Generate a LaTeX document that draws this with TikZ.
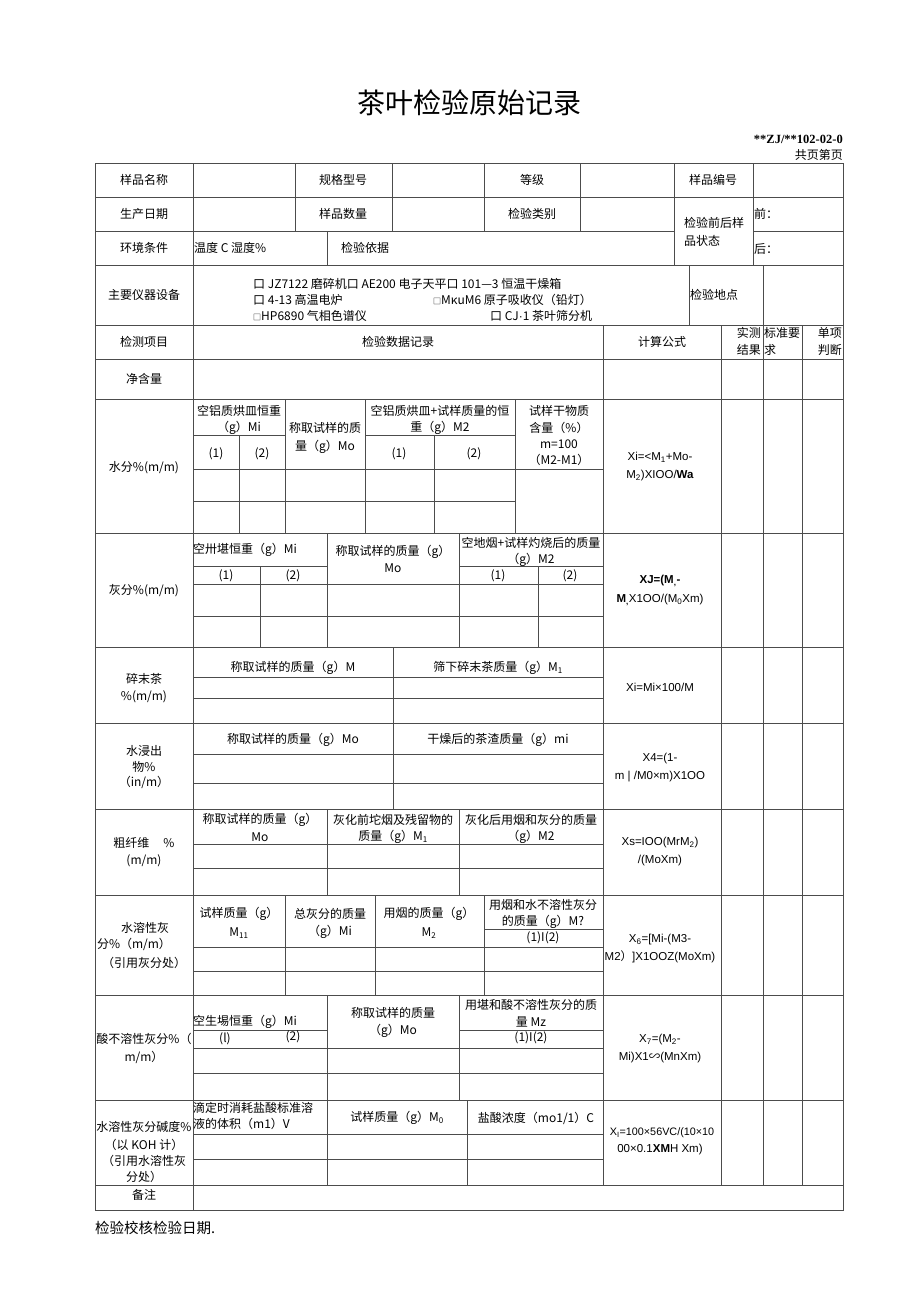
\documentclass[tikz,border=0pt]{standalone}
\usepackage{fontspec}
\setmainfont{Noto Sans CJK SC}
\newfontfamily\cjk{Noto Sans CJK SC}
\newfontfamily\tnr{Liberation Serif}
\newfontfamily\lat{Liberation Sans}
\usepackage{tikz}

\begin{document}
\begin{tikzpicture}[x=1pt,y=-1pt]
	\tikzstyle{T} = [inner sep=0pt,font=\fontsize{12}{14}\selectfont,text=black]
	\tikzstyle{Tl} = [T,anchor=west]
	\tikzstyle{Tr} = [T,anchor=east]
	\tikzstyle{F} = [inner sep=0pt,font=\lat\fontsize{11.5}{13}\selectfont,text=black]
	\tikzstyle{G} = [line width=1pt,color=black!70]
	\fill[white] (0,0) rectangle (920,1301);
	\useasboundingbox (0,0) rectangle (920,1301);
	% heading
	\node[T,font=\fontsize{28}{30}\selectfont](title) at (469,103) {茶叶检验原始记录};
	\node[Tr,font=\tnr\bfseries\fontsize{12.5}{13}\selectfont](code) at (843,139) {**ZJ/**102-02-0};
	\node[Tr](pg) at (843,155) {共页第页};
	% frame and rows
	\draw[G] (95,163) rectangle (843,1210);
	\draw[G] (95,197) -- (843,197) (95,231) -- (674,231) (753,231) -- (843,231);
	\draw[G] (95,265) -- (843,265) (95,325) -- (843,325) (95,359) -- (843,359) (95,399) -- (843,399);
	\draw[G] (95,533) -- (843,533) (95,647) -- (843,647) (95,723) -- (843,723) (95,809) -- (843,809);
	\draw[G] (95,895) -- (843,895) (95,995) -- (843,995) (95,1100) -- (843,1100) (95,1185) -- (843,1185);
	\draw[G] (193,163) -- (193,1210);
	\draw[G] (295,163) -- (295,231) (392,163) -- (392,231) (484,163) -- (484,231) (580,163) -- (580,231);
	\draw[G] (674,163) -- (674,265) (753,163) -- (753,265) (327,231) -- (327,265);
	\draw[G] (689,265) -- (689,325) (763,265) -- (763,325);
	\draw[G] (603,325) -- (603,1185) (721,325) -- (721,1185) (763,325) -- (763,1185) (802,325) -- (802,1185);
	% water
	\draw[G] (239,435) -- (239,533) (285,399) -- (285,533) (365,399) -- (365,533) (434,435) -- (434,533) (515,399) -- (515,533);
	\draw[G] (193,435) -- (285,435) (365,435) -- (515,435) (193,469) -- (603,469) (193,501) -- (515,501);
	% ash
	\draw[G] (260,566) -- (260,647) (327,533) -- (327,647) (459,533) -- (459,647) (538,566) -- (538,647);
	\draw[G] (193,566) -- (327,566) (459,566) -- (603,566) (193,584) -- (603,584) (193,616) -- (603,616);
	% broken tea, water extract, crude fibre
	\draw[G] (393,647) -- (393,809) (193,677) -- (603,677) (193,698) -- (603,698) (193,754) -- (603,754) (193,783) -- (603,783);
	\draw[G] (327,809) -- (327,895) (459,809) -- (459,895) (193,844) -- (603,844) (193,868) -- (603,868);
	% water soluble ash, acid insoluble ash, alkalinity
	\draw[G] (285,895) -- (285,995) (375,895) -- (375,995) (484,895) -- (484,995);
	\draw[G] (484,929) -- (603,929) (193,947) -- (603,947) (193,971) -- (603,971);
	\draw[G] (327,995) -- (327,1100) (459,995) -- (459,1100);
	\draw[G] (193,1030) -- (327,1030) (459,1030) -- (603,1030) (193,1048) -- (603,1048) (193,1073) -- (603,1073);
	\draw[G] (327,1100) -- (327,1185) (467,1100) -- (467,1185) (193,1134) -- (603,1134) (193,1159) -- (603,1159);
	% top rows
	\node[T](name) at (144,180) {样品名称};
	\node[T](spec) at (343,180) {规格型号};
	\node[T](grade) at (532,180) {等级};
	\node[T](no) at (713,180) {样品编号};
	\node[T](date) at (144,214) {生产日期};
	\node[T](qty) at (343,214) {样品数量};
	\node[T](kind) at (532,214) {检验类别};
	\node[Tl](st1) at (684,223) {检验前后样};
	\node[Tl](st2) at (684,241) {品状态};
	\node[Tl](pre) at (754,214) {前：};
	\node[Tl](post) at (754,249) {后：};
	\node[T](env) at (144,248) {环境条件};
	\node[Tl](temp) at (194,248) {温度 C 湿度\%};
	\node[Tl](basis) at (341,248) {检验依据};
	\node[T](equip) at (144,295) {主要仪器设备};
	\node[Tl](eq1) at (253,284) {口 JZ7122 磨碎机口 AE200 电子天平口 101—3 恒温干燥箱};
	\node[Tl](eq2) at (253,300) {口 4-13 高温电炉};
	\node[Tl](eq3) at (433,300) {{\fontsize{8}{8}\selectfont □}MκuM6 原子吸收仪（铅灯）};
	\node[Tl](eq4) at (253,316) {{\fontsize{8}{8}\selectfont □}HP6890 气相色谱仪};
	\node[Tl](eq5) at (490,316) {口 CJ{\lat ·}1 茶叶筛分机};
	\node[Tl](site) at (690,295) {检验地点};
	% header
	\node[T](item) at (144,342) {检测项目};
	\node[T](rec) at (398,342) {检验数据记录};
	\node[T](calc) at (662,342) {计算公式};
	\node[Tr](res1) at (761,333) {实测};
	\node[Tr](res2) at (761,350) {结果};
	\node[Tl](std1) at (764,333) {标准要};
	\node[Tl](std2) at (764,350) {求};
	\node[Tr](jd1) at (842,333) {单项};
	\node[Tr](jd2) at (842,350) {判断};
	\node[T](net) at (144,379) {净含量};
	% water
	\node[T](w) at (144,468) {水分\%(m/m)};
	\node[T](wa1) at (239,411) {空铝质烘皿恒重};
	\node[T](wa2) at (239,428) {（g）Mi};
	\node[T](wb1) at (325,428) {称取试样的质};
	\node[T](wb2) at (325,447) {量（g）Mo};
	\node[T](wc1) at (440,411) {空铝质烘皿+试样质量的恒};
	\node[T](wc2) at (440,428) {重（g）M2};
	\node[T](wd1) at (559,411) {试样干物质};
	\node[T](wd2) at (559,428) {含量（\%）};
	\node[T](wd3) at (559,444) {m=100};
	\node[T](wd4) at (559,460) {（M2-M1）};
	\node[T](w11) at (216,454) {(1)};
	\node[T](w12) at (262,454) {(2)};
	\node[T](w21) at (399,454) {(1)};
	\node[T](w22) at (474,454) {(2)};
	\node[F](wf1) at (660,457) {Xi=<M\textsubscript{1}+Mo-};
	\node[F](wf2) at (660,476) {M\textsubscript{2})XIOO/\textbf{Wa}};
	% ash
	\node[T](a) at (144,591) {灰分\%(m/m)};
	\node[Tl](aa) at (193,550) {空卅堪恒重（g）Mi};
	\node[T](ab1) at (393,552) {称取试样的质量（g）};
	\node[T](ab2) at (393,568) {Mo};
	\node[T](ac1) at (531,543) {空地烟+试样灼烧后的质量};
	\node[T](ac2) at (531,560) {（g）M2};
	\node[T](a11) at (226,576) {(1)};
	\node[T](a12) at (293,576) {(2)};
	\node[T](a21) at (498,576) {(1)};
	\node[T](a22) at (570,576) {(2)};
	\node[F](af1) at (660,581) {\textbf{XJ=(M\textsubscript{,}-}};
	\node[F](af2) at (660,600) {\textbf{M\textsubscript{,}}X1OO/(M\textsubscript{0}Xm)};
	% broken tea
	\node[T](b1) at (144,679) {碎末茶};
	\node[T](b2) at (144,697) {\%(m/m)};
	\node[T](ba) at (293,668) {称取试样的质量（g）M};
	\node[T](bb) at (498,668) {筛下碎末茶质量（g）M\textsubscript{1}};
	\node[F](bf) at (660,687) {Xi=Mi×100/M};
	% water extract
	\node[T](e1) at (144,751) {水浸出};
	\node[T](e2) at (144,767) {物\%};
	\node[T](e3) at (144,782) {（in/m）};
	\node[T](ea) at (293,740) {称取试样的质量（g）Mo};
	\node[T](eb) at (498,740) {干燥后的茶渣质量（g）mi};
	\node[F](ef1) at (660,759) {X4=(1-};
	\node[F](ef2) at (660,777) {m | /M0×m)X1OO};
	% crude fibre
	\node[T](c1) at (144,843) {粗纤维\hspace{14pt}\%};
	\node[T](c2) at (144,861) {(m/m)};
	\node[T](ca1) at (260,820) {称取试样的质量（g）};
	\node[T](ca2) at (260,837) {Mo};
	\node[T](cb1) at (393,820) {灰化前坨烟及残留物的};
	\node[T](cb2) at (393,837) {质量（g）M\textsubscript{1}};
	\node[T](cc1) at (531,820) {灰化后用烟和灰分的质量};
	\node[T](cc2) at (531,837) {（g）M2};
	\node[F](cf1) at (660,843) {Xs=IOO(MrM\textsubscript{2})};
	\node[F](cf2) at (660,861) {/(MoXm)};
	% water soluble ash
	\node[T](s1) at (145,928) {水溶性灰};
	\node[T](s2) at (134,944) {分\%（m/m）};
	\node[T](s3) at (144,963) {（引用灰分处）};
	\node[T](sa1) at (239,914) {试样质量（g）};
	\node[T](sa2) at (239,933) {M\textsubscript{11}};
	\node[T](sb1) at (330,914) {总灰分的质量};
	\node[T](sb2) at (330,932) {（g）Mi};
	\node[T](sc1) at (429,914) {用烟的质量（g）};
	\node[T](sc2) at (429,933) {M\textsubscript{2}};
	\node[T](sd1) at (543,905) {用烟和水不溶性灰分};
	\node[T](sd2) at (543,922) {的质量（g）M?};
	\node[T](sd3) at (543,938) {(1)I(2)};
	\node[F](sf1) at (660,940) {X\textsubscript{6}=[Mi-(M3-};
	\node[F](sf2) at (660,957) {M2{\cjk ）}]X1OOZ(MoXm)};
	% acid insoluble ash
	\node[T](i1) at (144,1039) {酸不溶性灰分\%（};
	\node[T](i2) at (144,1057) {m/m）};
	\node[Tl](ia) at (193,1022) {空生埸恒重（g）Mi};
	\node[T](i11) at (225,1039) {(l)};
	\node[T](i12) at (293,1037) {(2)};
	\node[T](ib1) at (393,1013) {称取试样的质量};
	\node[T](ib2) at (393,1031) {（g）Mo};
	\node[T](ic1) at (531,1005) {用堪和酸不溶性灰分的质};
	\node[T](ic2) at (531,1022) {量 Mz};
	\node[T](ic3) at (531,1038) {(1)I(2)};
	\node[F](if1) at (660,1040) {X\textsubscript{7}=(M\textsubscript{2}-};
	\node[F](if2) at (660,1058) {Mi)X1{\cjk ∽}(MnXm)};
	% alkalinity
	\node[T](k1) at (144,1127) {水溶性灰分碱度\%};
	\node[T](k2) at (144,1145) {（以 KOH 计）};
	\node[T](k3) at (144,1161) {（引用水溶性灰};
	\node[T](k4) at (144,1177) {分处）};
	\node[Tl](ka1) at (193,1108) {滴定时消耗盐酸标准溶};
	\node[Tl](ka2) at (193,1124) {液的体积（m1）V};
	\node[T](kb) at (397,1118) {试样质量（g）M\textsubscript{0}};
	\node[T](kc) at (536,1118) {盐酸浓度（mo1/1）C};
	\node[F,font=\lat\fontsize{10.8}{13}\selectfont](kf1) at (662,1133) {X\textsubscript{I}=100×56VC/(10×10};
	\node[F](kf2) at (660,1150) {00×0.1\textbf{XM}H Xm)};
	\node[T](note) at (144,1195) {备注};
	\node[Tl,font=\fontsize{14.5}{16}\selectfont](foot) at (95,1228) {检验校核检验日期.};
\end{tikzpicture}
\end{document}
